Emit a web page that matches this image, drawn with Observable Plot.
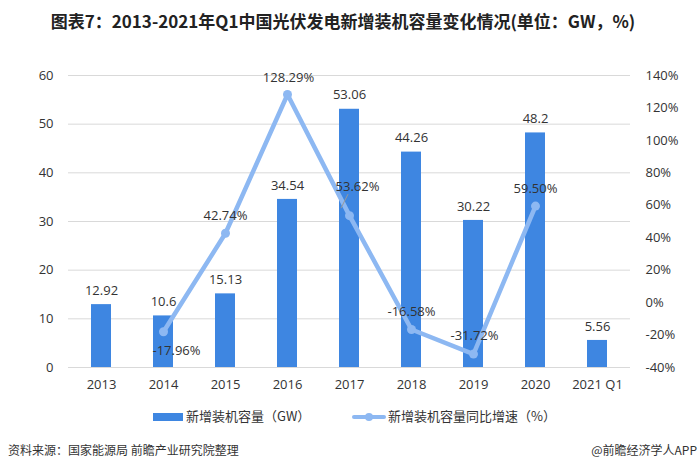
<!DOCTYPE html>
<html>
<head>
<meta charset="utf-8">
<script src="https://cdn.jsdelivr.net/npm/d3@7"></script>
<script src="https://cdn.jsdelivr.net/npm/@observablehq/plot@0.6"></script>
<style>
  html, body { margin: 0; padding: 0; background: #fff; }
  body { width: 700px; height: 470px; position: relative; overflow: hidden;
         font-family: "Noto Sans CJK SC", "Noto Sans", sans-serif; color: #333; }
  #title { position: absolute; top: 8px; left: 0; width: 686px; text-align: center;
           font-size: 17px; font-weight: bold; color: #222; letter-spacing: 0px; }
  #chart { position: absolute; top: 50px; left: 0; }
  #legend { position: absolute; top: 405px; left: 0; width: 700px; height: 22px; }
  .lg { position: absolute; top: 0; font-size: 13px; color: #333; line-height: 22px; }
  .sw-bar { position: absolute; left: 153px; top: 8px; width: 30px; height: 8px; background: #3e86e1; }
  .sw-line { position: absolute; left: 352px; top: 10px; width: 34px; height: 4px; background: #8db8f2; border-radius: 2px; }
  .sw-dot { position: absolute; left: 365px; top: 8px; width: 8px; height: 8px; background: #8db8f2; border-radius: 50%; }
  #footer { position: absolute; top: 441px; left: 8px; font-size: 12px; color: #333; }
  #footer-r { position: absolute; top: 441px; right: 3px; font-size: 12px; color: #333; }
</style>
</head>
<body>
<div id="title">图表7：2013-2021年Q1中国光伏发电新增装机容量变化情况(单位：GW，%)</div>
<div id="chart"></div>
<div id="legend">
  <div class="sw-bar"></div>
  <div class="lg" style="left:186px">新增装机容量（GW）</div>
  <div class="sw-line"></div><div class="sw-dot"></div>
  <div class="lg" style="left:388px">新增装机容量同比增速（%）</div>
</div>
<div id="footer">资料来源：国家能源局 前瞻产业研究院整理</div>
<div id="footer-r">@前瞻经济学人APP</div>
<script>
const categories = ["2013", "2014", "2015", "2016", "2017", "2018", "2019", "2020", "2021 Q1"];
const capacity = [12.92, 10.6, 15.13, 34.54, 53.06, 44.26, 30.22, 48.2, 5.56];
const growth = [null, -17.96, 42.74, 128.29, 53.62, -16.58, -31.72, 59.50, null];
const leftTicks = [0, 10, 20, 30, 40, 50, 60];
const rightTicks = [-40, -20, 0, 20, 40, 60, 80, 100, 120, 140];

// map percent (right axis, -40..140) onto left axis units (0..60)
const pctToLeft = p => (p + 40) / 180 * 60;

const bars = categories.map((c, i) => ({cat: c, value: capacity[i]}));
const line = categories.map((c, i) => ({cat: c, pct: growth[i]})).filter(d => d.pct != null);

// label offsets for the growth labels (styling, not data)
const lblOff = {
  "2014": [13, 19], "2015": [0, -17], "2016": [1, -17], "2017": [8, -29],
  "2018": [0, -18], "2019": [1, -18], "2020": [0, -17]
};

const font = "'Open Sans', 'Noto Sans', sans-serif";

const growthLabels = line.map(d => Plot.text([d], {
  x: "cat", y: v => pctToLeft(v.pct), text: v => v.pct.toFixed(2) + "%",
  dx: lblOff[d.cat][0], dy: lblOff[d.cat][1], fill: "#333", fontSize: 13
}));

// leader line for the 2017 label, positioned through the scales
const leader = Plot.dot(line.filter(d => d.cat === "2017"), {
  x: "cat", y: d => pctToLeft(d.pct),
  render: (index, scales, values) => {
    const g = d3.create("svg:g");
    for (const i of index) {
      const x = values.x[i], y = values.y[i];
      g.append("path").attr("d", `M${x + 2},${y - 7}L${x + 9},${y - 21}`)
        .attr("stroke", "#999").attr("stroke-width", 1).attr("fill", "none");
    }
    return g.node();
  }
});

const chart = Plot.plot({
  width: 700,
  height: 345,
  marginLeft: 68,
  marginRight: 70,
  marginTop: 25,
  marginBottom: 28,
  style: {fontFamily: font, fontSize: "13px", color: "#333", background: "transparent"},
  x: {domain: categories, paddingInner: 0.68, paddingOuter: 0.34, label: null},
  y: {domain: [0, 60], label: null},
  marks: [
    Plot.ruleY(leftTicks, {stroke: "#d9d9d9", strokeWidth: 1}),
    Plot.axisY({ticks: leftTicks, anchor: "left", tickSize: 0, tickPadding: 15, label: null, fontSize: 13}),
    Plot.axisY({ticks: rightTicks.map(pctToLeft), anchor: "right", tickSize: 0, tickPadding: 15,
      label: null, textAnchor: "start", fontSize: 13,
      tickFormat: v => Math.round(v / 60 * 180 - 40) + "%"}),
    Plot.axisX({tickSize: 0, tickPadding: 12, label: null, fontSize: 13}),
    Plot.barY(bars, {x: "cat", y: "value", fill: "#3e86e1"}),
    Plot.text(bars, {x: "cat", y: "value", text: d => String(d.value), dy: -14, fill: "#333", fontSize: 13}),
    Plot.line(line, {x: "cat", y: d => pctToLeft(d.pct), stroke: "#8db8f2", strokeWidth: 4.5, curve: "linear"}),
    Plot.dot(line, {x: "cat", y: d => pctToLeft(d.pct), r: 4.5, fill: "#8db8f2", stroke: "none"}),
    leader,
    ...growthLabels
  ]
});
document.getElementById("chart").appendChild(chart);
</script>
</body>
</html>
